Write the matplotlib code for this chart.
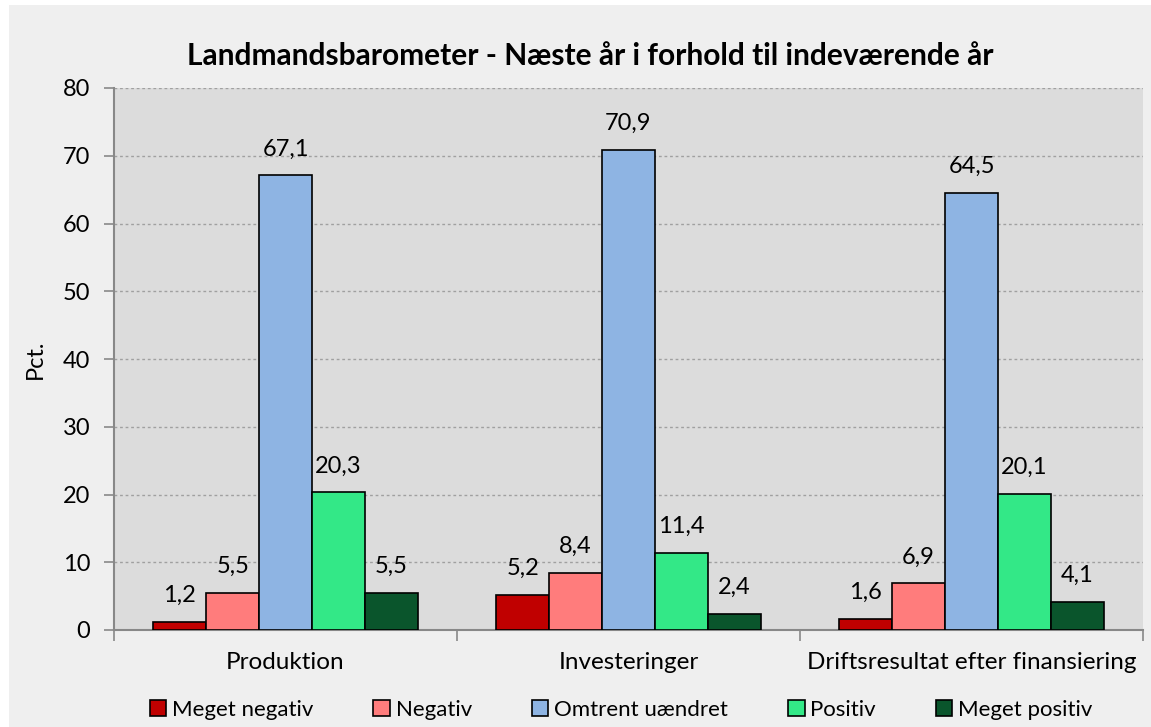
import matplotlib.pyplot as plt
import matplotlib.patches as mpatches
import numpy as np

plt.rcParams['font.family'] = ['Lato', 'DejaVu Sans']

categories = ['Produktion', 'Investeringer', 'Driftsresultat efter finansiering']
series_names = ['Meget negativ', 'Negativ', 'Omtrent uændret', 'Positiv', 'Meget positiv']
meget_negativ = [1.2, 5.2, 1.6]
negativ = [5.5, 8.4, 6.9]
omtrent_uaendret = [67.1, 70.9, 64.5]
positiv = [20.3, 11.4, 20.1]
meget_positiv = [5.5, 2.4, 4.1]
colors = ['#C00000', '#FF7C7C', '#8EB4E3', '#33E887', '#0A552C']

series = [meget_negativ, negativ, omtrent_uaendret, positiv, meget_positiv]

fig = plt.figure(figsize=(11.51, 7.27), dpi=100)
fig.patch.set_facecolor('white')
# grå baggrund for diagramomraadet
fig.patches.append(mpatches.Rectangle((9 / 1151, 0), 1 - 9 / 1151, 1 - 5 / 727,
                                      transform=fig.transFigure, facecolor='#EFEFEF',
                                      edgecolor='none', zorder=-10))

ax = fig.add_axes([114 / 1151, 1 - 630 / 727, (1143 - 114) / 1151, (630 - 88) / 727])
ax.set_facecolor('#DCDCDC')

x = np.arange(len(categories))
width = 0.154
for i, (vals, name, col) in enumerate(zip(series, series_names, colors)):
    pos = x + (i - 2) * width
    bars = ax.bar(pos, vals, width, color=col, edgecolor='black', linewidth=1.2,
                  label=name, zorder=3)
    for b, v in zip(bars, vals):
        ax.annotate(f'{v:.1f}'.replace('.', ','), (b.get_x() + b.get_width() / 2, v),
                    xytext=(0, 19), textcoords='offset points', ha='center', va='center',
                    fontsize=17, color='black', zorder=4)

ax.set_ylim(0, 80)
ax.set_xlim(-0.5, 2.5)
ax.set_yticks(range(0, 81, 10))
ax.tick_params(axis='y', labelsize=17, length=7, width=1.2, color='#888888', pad=10)
ax.set_xticks(x)
ax.set_xticklabels(categories, fontsize=17.5)
ax.tick_params(axis='x', length=0, pad=16)
ax.set_xticks([-0.5, 0.5, 1.5, 2.5], minor=True)
ax.tick_params(axis='x', which='minor', length=8, width=1.2, color='#888888')
ax.grid(axis='y', linestyle=(0, (2, 2)), color='#A0A0A0', linewidth=1, zorder=1)
for s in ['top', 'right']:
    ax.spines[s].set_visible(False)
for s in ['left', 'bottom']:
    ax.spines[s].set_color('#888888')
    ax.spines[s].set_linewidth(1.5)
ax.set_ylabel('Pct.', fontsize=17, labelpad=12)

fig.text(590 / 1151, 1 - 56 / 727, 'Landmandsbarometer - Næste år i forhold til indeværende år',
         ha='center', va='center', fontsize=21.5, fontweight='bold')

fig.legend(loc='center', bbox_to_anchor=(621 / 1151, 1 - 710 / 727), ncol=5, frameon=False,
           fontsize=16, handlelength=0.75, handleheight=0.75, handletextpad=0.25,
           columnspacing=2.7)

fig.savefig('out.png', dpi=100, facecolor=fig.get_facecolor())
